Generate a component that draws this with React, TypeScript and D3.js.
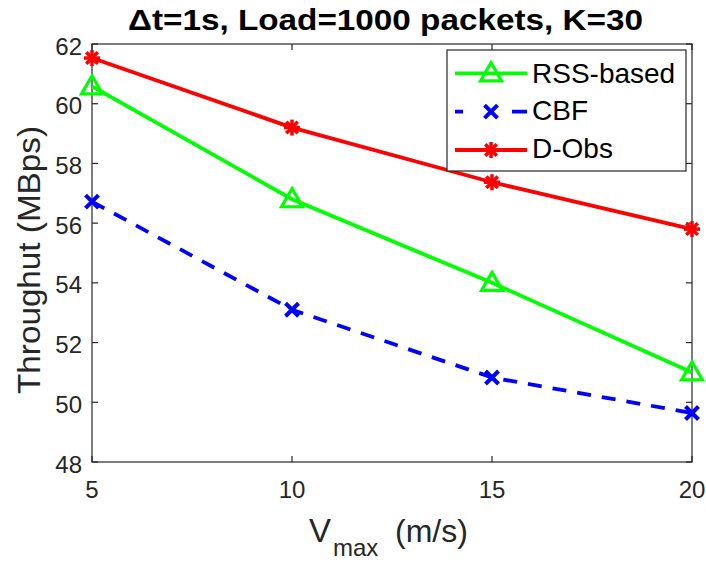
import React from "react";
import * as d3 from "d3";

const vmax = [5, 10, 15, 20];
const rssBased = [60.58, 56.8, 54.0, 51.0];
const cbf = [56.72, 53.1, 50.83, 49.64];
const dObs = [61.53, 59.2, 57.37, 55.8];
const xTicks = [5, 10, 15, 20];
const yTicks = [48, 50, 52, 54, 56, 58, 60, 62];
const seriesNames = ["RSS-based", "CBF", "D-Obs"];
const titleText = "\u0394t=1s, Load=1000 packets, K=30";

const W = 706;
const H = 563;
const M = { left: 92, right: 692, top: 44, bottom: 462 };
const FONT = "'Liberation Sans', Arial, Helvetica, sans-serif";
const AX = "#262626";

const GREEN = "#00ff00";
const BLUE = "#0000ff";
const RED = "#ff0000";

function Triangle({ x, y }: { x: number; y: number }) {
  const p = `${x},${y - 10.5} ${x - 10.5},${y + 7.5} ${x + 10.5},${y + 7.5}`;
  return <polygon points={p} fill="none" stroke={GREEN} strokeWidth={3.2} strokeLinejoin="miter" />;
}
function Cross({ x, y }: { x: number; y: number }) {
  const r = 6.5;
  return (
    <g stroke={BLUE} strokeWidth={4}>
      <line x1={x - r} y1={y - r} x2={x + r} y2={y + r} />
      <line x1={x - r} y1={y + r} x2={x + r} y2={y - r} />
    </g>
  );
}
function Star({ x, y }: { x: number; y: number }) {
  const r = 8;
  const d = r * 0.72;
  return (
    <g stroke={RED} strokeWidth={3.5}>
      <line x1={x - r} y1={y} x2={x + r} y2={y} />
      <line x1={x} y1={y - r} x2={x} y2={y + r} />
      <line x1={x - d} y1={y - d} x2={x + d} y2={y + d} />
      <line x1={x - d} y1={y + d} x2={x + d} y2={y - d} />
    </g>
  );
}

export default function App() {
  const x = d3.scaleLinear().domain([5, 20]).range([M.left, M.right]);
  const y = d3.scaleLinear().domain([48, 62]).range([M.bottom, M.top]);
  const line = d3
    .line<number>()
    .x((_, i) => x(vmax[i]))
    .y((d) => y(d));

  const tl = 6;
  return (
    <svg width={W} height={H} style={{ position: "absolute", left: 0, top: 0, background: "#fff" }}>
      <rect x={0} y={0} width={W} height={H} fill="#fff" />
      {/* axes box */}
      <rect x={M.left} y={M.top} width={M.right - M.left} height={M.bottom - M.top} fill="none" stroke={AX} strokeWidth={1.2} />
      {xTicks.map((t) => (
        <g key={"xt" + t}>
          <line x1={x(t)} x2={x(t)} y1={M.bottom} y2={M.bottom - tl} stroke={AX} strokeWidth={1.2} />
          <line x1={x(t)} x2={x(t)} y1={M.top} y2={M.top + tl} stroke={AX} strokeWidth={1.2} />
          <text x={x(t)} y={497.5} textAnchor="middle" fontFamily={FONT} fontSize={24} fill={AX}>
            {t}
          </text>
        </g>
      ))}
      {yTicks.map((t) => (
        <g key={"yt" + t}>
          <line x1={M.left} x2={M.left + tl} y1={y(t)} y2={y(t)} stroke={AX} strokeWidth={1.2} />
          <line x1={M.right} x2={M.right - tl} y1={y(t)} y2={y(t)} stroke={AX} strokeWidth={1.2} />
          <text x={82} y={y(t) + 10.5} textAnchor="end" fontFamily={FONT} fontSize={24} fill={AX}>
            {t}
          </text>
        </g>
      ))}

      {/* series lines */}
      <path d={line(rssBased) || ""} fill="none" stroke={GREEN} strokeWidth={3.8} />
      <path d={line(cbf) || ""} fill="none" stroke={BLUE} strokeWidth={3.8} strokeDasharray="14 11" />
      <path d={line(dObs) || ""} fill="none" stroke={RED} strokeWidth={3.8} />
      {rssBased.map((v, i) => (
        <Triangle key={"g" + i} x={x(vmax[i])} y={y(v)} />
      ))}
      {cbf.map((v, i) => (
        <Cross key={"b" + i} x={x(vmax[i])} y={y(v)} />
      ))}
      {dObs.map((v, i) => (
        <Star key={"r" + i} x={x(vmax[i])} y={y(v)} />
      ))}

      {/* legend */}
      <rect x={447} y={50} width={239} height={121} fill="#fff" stroke={AX} strokeWidth={1.2} />
      <line x1={455} x2={527} y1={73.3} y2={73.3} stroke={GREEN} strokeWidth={3.8} />
      <Triangle x={491} y={73.3} />
      <line x1={455} x2={527} y1={111.7} y2={111.7} stroke={BLUE} strokeWidth={3.8} strokeDasharray="8 49 15" />
      <Cross x={491} y={111.7} />
      <line x1={455} x2={527} y1={150} y2={150} stroke={RED} strokeWidth={3.8} />
      <Star x={491} y={150} />
      {seriesNames.map((n, i) => (
        <text key={n} x={532} y={82.5 + i * 37.7} fontFamily={FONT} fontSize={28} fill="#000">
          {n}
        </text>
      ))}

      {/* title */}
      <text x={385.5} y={30} textAnchor="middle" fontFamily={FONT} fontWeight="bold" fontSize={30} fill="#000" textLength={515} lengthAdjust="spacingAndGlyphs">
        {titleText}
      </text>

      {/* x label */}
      <text x={309} y={542} fontFamily={FONT} fontSize={33} fill={AX}>
        V
      </text>
      <text x={333} y={555.5} fontFamily={FONT} fontSize={24} fill={AX}>
        max
      </text>
      <text x={395} y={542} fontFamily={FONT} fontSize={32} fill={AX}>
        (m/s)
      </text>

      {/* y label */}
      <text transform="translate(40,260) rotate(-90)" textAnchor="middle" fontFamily={FONT} fontSize={32} fill={AX} textLength={268} lengthAdjust="spacingAndGlyphs">
        Throughut (MBps)
      </text>
    </svg>
  );
}
